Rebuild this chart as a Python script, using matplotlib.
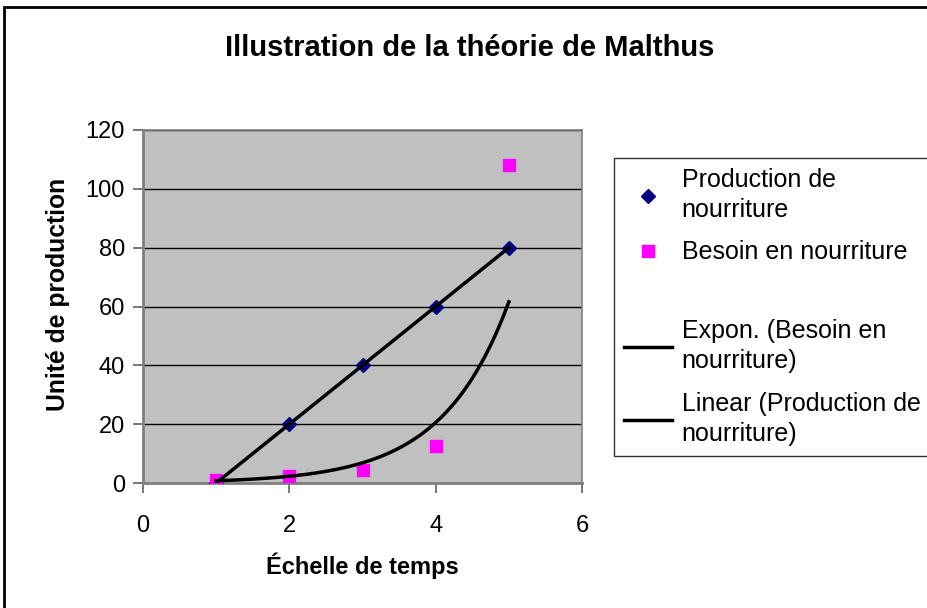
import numpy as np
import matplotlib
matplotlib.use("Agg")
import matplotlib.pyplot as plt
from matplotlib.patches import Rectangle
from matplotlib.lines import Line2D

plt.rcParams['font.family'] = ['Liberation Sans', 'DejaVu Sans']

# données
temps = [1, 2, 3, 4, 5]
production = [0, 20, 40, 60, 80]
besoin = [1, 2.5, 4.5, 12.5, 108]

fig = plt.figure(figsize=(9.27, 6.08), dpi=100)
ax = fig.add_axes([143 / 927, 1 - 483 / 608, (582 - 143) / 927, (483 - 130) / 608])
ax.set_facecolor('#C0C0C0')

# courbes de tendance (calculées à partir des points, comme Excel)
xs = np.linspace(1, 5, 200)
b, a = np.polyfit(temps, np.log(besoin), 1)
expo, = ax.plot(xs, np.exp(a) * np.exp(b * xs), color='black', lw=2.5, zorder=4)
m, c = np.polyfit(temps, production, 1)
lin, = ax.plot(xs, m * xs + c, color='black', lw=2.5, zorder=4)

prod_pts, = ax.plot(temps, production, ls='none', marker='D', ms=7.5,
                    color='#000080', zorder=3)
bes_pts, = ax.plot(temps, besoin, ls='none', marker='s', ms=8,
                   color='#FF00FF', zorder=3)

ax.set_xlim(0, 6)
ax.set_ylim(0, 120)
ax.set_xticks([0, 2, 4, 6])
ax.set_yticks(range(0, 121, 20))
ax.yaxis.grid(True, color='black', lw=1)
ax.set_axisbelow(True)
for s in ax.spines.values():
    s.set_color('#808080')
    s.set_linewidth(1.2)
ax.spines['left'].set_linewidth(2)
ax.spines['bottom'].set_linewidth(2)
ax.tick_params(direction='out', length=7, width=1.2, color='#606060',
               labelsize=17, pad=6)
ax.tick_params(axis='x', pad=16)

ax.set_xlabel('Échelle de temps', fontsize=17, fontweight='bold', labelpad=11)
ax.set_ylabel('Unité de production', fontsize=17.8, fontweight='bold')
ax.yaxis.set_label_coords(-0.166, 0.535)
fig.text(470 / 927, 1 - 48 / 608, 'Illustration de la théorie de Malthus',
         ha='center', va='center', fontsize=21, fontweight='bold')

# cadre extérieur du graphique (coupé à droite et en bas)
fig.patches.append(Rectangle((4 / 927, -0.1), 1.2, 1 - 7 / 608 + 0.1,
                             transform=fig.transFigure, fill=False,
                             edgecolor='black', lw=2))

blank = Line2D([], [], ls='none')
leg = fig.legend([prod_pts, bes_pts, blank, expo, lin],
                 ['Production de\nnourriture', 'Besoin en nourriture', ' ',
                  'Expon. (Besoin en\nnourriture)',
                  'Linear (Production de\nnourriture)'],
                 loc='upper left', bbox_to_anchor=(614 / 927, 1 - 158 / 608),
                 fontsize=18, frameon=True, fancybox=False, handlelength=1.9,
                 handletextpad=0.4, labelspacing=0.75, borderpad=0.4,
                 borderaxespad=0)
leg.get_frame().set_edgecolor('black')
leg.get_frame().set_linewidth(1)
for t in leg.get_texts():
    t.set_linespacing(1.3)
leg.get_texts()[2].set_fontsize(1)

fig.savefig('out.png', dpi=100)
